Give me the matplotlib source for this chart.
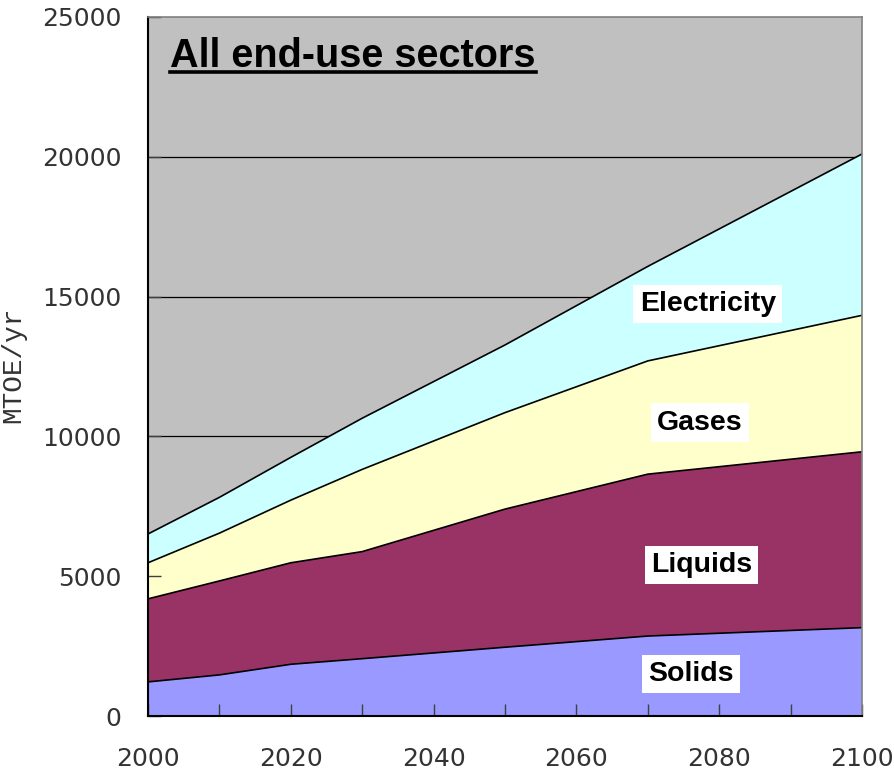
import numpy as np
import matplotlib
matplotlib.use("Agg")
import matplotlib.pyplot as plt
from matplotlib.lines import Line2D

years = [2000, 2010, 2020, 2030, 2050, 2070, 2100]
solids_top = [1220, 1470, 1850, 2050, 2460, 2860, 3160]
liquids_top = [4190, 4830, 5480, 5880, 7400, 8650, 9450]
gases_top = [5480, 6540, 7720, 8820, 10850, 12700, 14330]
electricity_top = [6510, 7820, 9250, 10650, 13270, 16080, 20100]

series_names = ["Solids", "Liquids", "Gases", "Electricity"]
colors = ["#9999FF", "#993366", "#FFFFCC", "#CCFFFF"]

tops = np.array([solids_top, liquids_top, gases_top, electricity_top], dtype=float)
layers = np.diff(np.vstack([np.zeros(len(years)), tops]), axis=0)

x_ticks = [2000, 2020, 2040, 2060, 2080, 2100]
x_minor = list(range(2000, 2101, 10))
y_ticks = [0, 5000, 10000, 15000, 20000, 25000]

fig = plt.figure(figsize=(8.94, 7.73), dpi=100)
ax = fig.add_axes([148/894, 57/773, 714/894, 699/773])
ax.set_facecolor("#C0C0C0")

for yv in y_ticks[1:-1]:
    ax.axhline(yv, color="black", lw=0.9, zorder=0.5)

ax.stackplot(years, layers, colors=colors, linewidth=0, zorder=1)
for t in tops:
    ax.plot(years, t, color="black", lw=1.2, zorder=2)

ax.set_xlim(2000, 2100)
ax.set_ylim(0, 25000)
ax.set_xticks(x_ticks)
ax.set_xticks(x_minor, minor=True)
ax.set_yticks(y_ticks)
ax.tick_params(axis="x", which="both", direction="in", length=9, width=1,
               labelsize=18, pad=22, color="#404040")
ax.tick_params(axis="y", which="both", direction="in", length=9, width=1,
               labelsize=18, pad=19, color="#404040")
for lab in ax.get_xticklabels() + ax.get_yticklabels():
    lab.set_family("DejaVu Sans")
    lab.set_color("#333333")

ax.spines["left"].set_color("black")
ax.spines["bottom"].set_color("black")
ax.spines["left"].set_linewidth(1.5)
ax.spines["bottom"].set_linewidth(1.5)
ax.spines["top"].set_color("#808080")
ax.spines["right"].set_color("#808080")
ax.spines["top"].set_linewidth(1.2)
ax.spines["right"].set_linewidth(1.2)

ax.set_ylabel("MTOE/yr", family=["Liberation Mono", "DejaVu Sans Mono"],
              fontsize=20, color="#333333")
ax.yaxis.set_label_coords(-0.170, 0.502)

label_pos = {"Electricity": (2078.4, 14735), "Gases": (2077.3, 10497),
             "Liquids": (2077.5, 5401), "Solids": (2076.1, 1502)}
for name in series_names:
    x, y = label_pos[name]
    ax.text(x, y, name, ha="center", va="center", fontsize=20.5,
            fontweight="bold", family=["Liberation Sans", "DejaVu Sans"],
            bbox=dict(boxstyle="square,pad=0.22", fc="white", ec="none"),
            zorder=5)

title = fig.text(170/894, 1 - 67/773, "All end-use sectors", ha="left",
                 va="baseline", fontsize=28.5, fontweight="bold",
                 family=["Liberation Sans", "DejaVu Sans"], zorder=6)
fig.canvas.draw()
bb = title.get_window_extent()
inv = fig.transFigure.inverted()
(x0, _), (x1, _) = inv.transform([(bb.x0, 0), (bb.x1, 0)])
uy = 1 - 72/773
fig.add_artist(Line2D([x0, x1], [uy, uy], color="black", lw=2.6,
                      transform=fig.transFigure, zorder=6))

fig.savefig("out.png", dpi=100)
